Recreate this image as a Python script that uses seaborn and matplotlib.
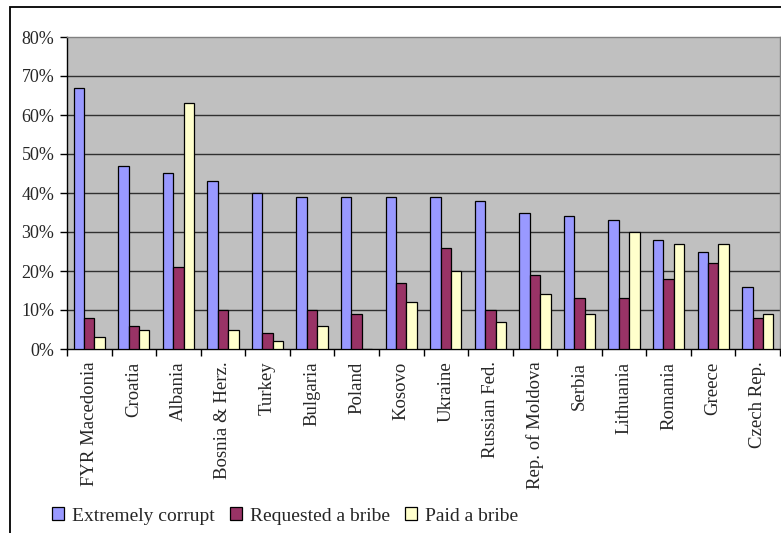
import matplotlib
matplotlib.use("Agg")
import matplotlib.pyplot as plt
from matplotlib.patches import Rectangle, Patch
from matplotlib.ticker import PercentFormatter, FixedLocator
import pandas as pd
import seaborn as sns

countries = ["FYR Macedonia", "Croatia", "Albania", "Bosnia & Herz.", "Turkey",
             "Bulgaria", "Poland", "Kosovo", "Ukraine", "Russian Fed.",
             "Rep. of Moldova", "Serbia", "Lithuania", "Romania", "Greece",
             "Czech Rep."]
extremely_corrupt = [67, 47, 45, 43, 40, 39, 39, 39, 39, 38, 35, 34, 33, 28, 25, 16]
requested_bribe = [8, 6, 21, 10, 4, 10, 9, 17, 26, 10, 19, 13, 13, 18, 22, 8]
paid_bribe = [3, 5, 63, 5, 2, 6, 0, 12, 20, 7, 14, 9, 30, 27, 27, 9]
series_names = ["Extremely corrupt", "Requested a bribe", "Paid a bribe"]
series_colors = ["#9999FF", "#993366", "#FFFFCC"]

rows = []
for name, vals in zip(series_names, [extremely_corrupt, requested_bribe, paid_bribe]):
    for c, v in zip(countries, vals):
        rows.append({"country": c, "series": name, "value": v})
df = pd.DataFrame(rows)

sns.set_style("white")
plt.rcParams["font.family"] = ["Liberation Serif", "DejaVu Serif"]

W, H = 781, 533
fig = plt.figure(figsize=(W / 100, H / 100), dpi=100)

# outer chart frame
fig.patches.append(Rectangle((10 / W, -0.1), 1.2, (H - 7) / H + 0.1,
                             transform=fig.transFigure, fill=False,
                             edgecolor="black", linewidth=1.3, zorder=0))

ax = fig.add_axes([67 / W, (H - 349) / H, (780 - 67) / W, (349 - 37) / H])
ax.set_facecolor("#C0C0C0")

sns.barplot(data=df, x="country", y="value", hue="series", order=countries,
            hue_order=series_names, palette=series_colors, width=0.7, gap=0,
            edgecolor="black", linewidth=0.9, saturation=1, legend=False,
            errorbar=None, ax=ax, zorder=3)

ax.set_ylim(0, 80)
ax.set_xlim(-0.5, len(countries) - 0.5)
ax.yaxis.set_major_locator(FixedLocator(range(0, 81, 10)))
ax.yaxis.set_major_formatter(PercentFormatter(decimals=0))
for y in range(10, 80, 10):
    ax.axhline(y, color="#303030", linewidth=1.0, zorder=1)

ax.set_xlabel("")
ax.set_ylabel("")
ax.set_xticks(range(len(countries)))
ax.set_xticklabels(countries, rotation=90, va="top", ha="center")
ax.set_xticks([i + 0.5 for i in range(-1, len(countries))], minor=True)
ax.tick_params(axis="x", which="major", length=0, pad=9, labelsize=13.5)
ax.tick_params(axis="x", which="minor", length=5, width=1, color="black",
               direction="out", bottom=True)
ax.tick_params(axis="y", which="major", length=5, width=1, color="black",
               direction="out", left=True, labelsize=13, pad=4)

for side in ["left", "bottom"]:
    ax.spines[side].set_color("black")
    ax.spines[side].set_linewidth(1.0)
for side in ["top", "right"]:
    ax.spines[side].set_color("#808080")
    ax.spines[side].set_linewidth(1.0)

handles = [Patch(facecolor=c, edgecolor="black", linewidth=0.9) for c in series_colors]
fig.legend(handles, series_names, loc="center",
           bbox_to_anchor=(285 / W, 1 - 516 / H), ncol=3, frameon=False,
           fontsize=14, handlelength=0.6, handleheight=0.6,
           handletextpad=0.4, columnspacing=0.8)

fig.savefig("out.png", dpi=100)
